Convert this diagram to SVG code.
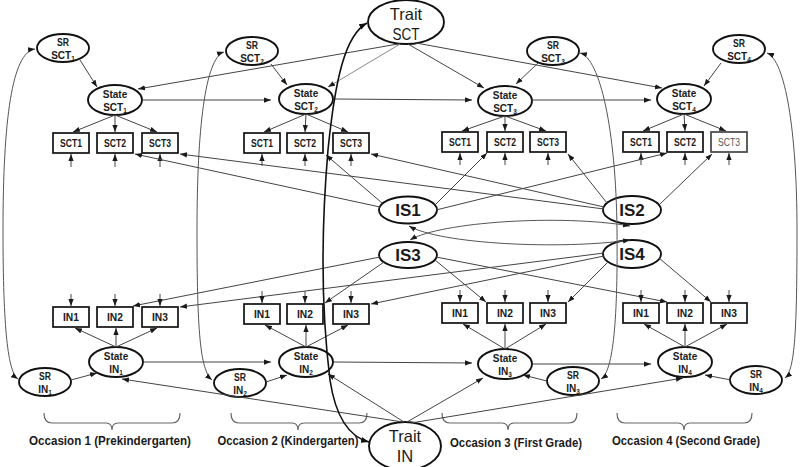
<svg xmlns="http://www.w3.org/2000/svg" width="800" height="467" viewBox="0 0 800 467">
<defs>
<marker id="ah" viewBox="0 0 8 6" refX="8" refY="3" markerWidth="7" markerHeight="5.5" markerUnits="userSpaceOnUse" orient="auto-start-reverse"><path d="M0,0 L8,3 L0,6 z" fill="#1a1a1a"/></marker>
<marker id="ahb" viewBox="0 0 8 6" refX="8" refY="3" markerWidth="8" markerHeight="6.5" markerUnits="userSpaceOnUse" orient="auto-start-reverse"><path d="M0,0 L8,3 L0,6 z" fill="#111"/></marker>
</defs>
<style>
text{font-family:"Liberation Sans",Arial,sans-serif;fill:#1a1a1a;text-anchor:middle;font-weight:bold}
.el{fill:#fff;stroke:#111;stroke-width:1.9}
.bx{fill:#fff;stroke:#111;stroke-width:1.7}
.sm{font-size:10px}
.bl{font-size:10.5px}
.is{font-size:17px}
.tr{font-size:16.5px;font-weight:normal}
.oc{font-size:13.5px}
.c{fill:none;stroke:#444;stroke-width:1;marker-end:url(#ah)}
.d{fill:none;stroke:#555;stroke-width:1;marker-end:url(#ah);marker-start:url(#ah)}
.bc{fill:none;stroke:#111;stroke-width:1.6;marker-end:url(#ahb);marker-start:url(#ahb)}
.br{fill:none;stroke:#666;stroke-width:1.2}
</style>

<!-- Nodes -->
<g id="traitSCT"><ellipse class="el" cx="406" cy="22" rx="38" ry="22"/><text class="tr" x="406" y="20">Trait</text><text class="tr" x="406" y="40" textLength="27" lengthAdjust="spacingAndGlyphs">SCT</text></g>
<g id="traitIN"><ellipse class="el" cx="405" cy="446" rx="36" ry="24"/><text class="tr" x="405" y="442">Trait</text><text class="tr" x="405" y="462">IN</text></g>

<g id="srSCT1"><ellipse class="el" cx="63" cy="48" rx="26" ry="14"/><text class="sm" x="63" y="46" textLength="12" lengthAdjust="spacingAndGlyphs">SR</text><text class="sm" x="63" y="59">SCT<tspan font-size="6.5" dy="2">1</tspan></text></g>
<g id="srSCT2"><ellipse class="el" cx="252" cy="51" rx="26" ry="14"/><text class="sm" x="252" y="49" textLength="12" lengthAdjust="spacingAndGlyphs">SR</text><text class="sm" x="252" y="62">SCT<tspan font-size="6.5" dy="2">2</tspan></text></g>
<g id="srSCT3"><ellipse class="el" cx="553" cy="51" rx="26" ry="14"/><text class="sm" x="553" y="49" textLength="12" lengthAdjust="spacingAndGlyphs">SR</text><text class="sm" x="553" y="62">SCT<tspan font-size="6.5" dy="2">3</tspan></text></g>
<g id="srSCT4"><ellipse class="el" cx="739" cy="49" rx="26" ry="14"/><text class="sm" x="739" y="47" textLength="12" lengthAdjust="spacingAndGlyphs">SR</text><text class="sm" x="739" y="60">SCT<tspan font-size="6.5" dy="2">4</tspan></text></g>

<g id="stateSCT1"><ellipse class="el" cx="115" cy="100" rx="27" ry="15"/><text class="sm" x="115" y="98">State</text><text class="sm" x="115" y="111">SCT<tspan font-size="6.5" dy="2">1</tspan></text></g>
<g id="stateSCT2"><ellipse class="el" cx="306" cy="99" rx="27" ry="15"/><text class="sm" x="306" y="97">State</text><text class="sm" x="306" y="110">SCT<tspan font-size="6.5" dy="2">2</tspan></text></g>
<g id="stateSCT3"><ellipse class="el" cx="505" cy="101" rx="27" ry="15"/><text class="sm" x="505" y="99">State</text><text class="sm" x="505" y="112">SCT<tspan font-size="6.5" dy="2">3</tspan></text></g>
<g id="stateSCT4"><ellipse class="el" cx="684" cy="99" rx="27" ry="15"/><text class="sm" x="684" y="97">State</text><text class="sm" x="684" y="110">SCT<tspan font-size="6.5" dy="2">4</tspan></text></g>

<g id="o1sct1"><rect class="bx" x="53" y="133" width="36" height="20"/><text class="bl" x="71" y="147" textLength="22" lengthAdjust="spacingAndGlyphs">SCT1</text></g>
<g id="o1sct2"><rect class="bx" x="97" y="133" width="36" height="20"/><text class="bl" x="115" y="147" textLength="22" lengthAdjust="spacingAndGlyphs">SCT2</text></g>
<g id="o1sct3"><rect class="bx" x="142" y="133" width="36" height="20"/><text class="bl" x="160" y="147" textLength="22" lengthAdjust="spacingAndGlyphs">SCT3</text></g>
<g id="o2sct1"><rect class="bx" x="244" y="133" width="36" height="20"/><text class="bl" x="262" y="147" textLength="22" lengthAdjust="spacingAndGlyphs">SCT1</text></g>
<g id="o2sct2"><rect class="bx" x="287" y="133" width="36" height="20"/><text class="bl" x="305" y="147" textLength="22" lengthAdjust="spacingAndGlyphs">SCT2</text></g>
<g id="o2sct3"><rect class="bx" x="333" y="133" width="36" height="20"/><text class="bl" x="351" y="147" textLength="22" lengthAdjust="spacingAndGlyphs">SCT3</text></g>
<g id="o3sct1"><rect class="bx" x="442" y="132" width="36" height="20"/><text class="bl" x="460" y="146" textLength="22" lengthAdjust="spacingAndGlyphs">SCT1</text></g>
<g id="o3sct2"><rect class="bx" x="487" y="132" width="36" height="20"/><text class="bl" x="505" y="146" textLength="22" lengthAdjust="spacingAndGlyphs">SCT2</text></g>
<g id="o3sct3"><rect class="bx" x="530" y="132" width="36" height="20"/><text class="bl" x="548" y="146" textLength="22" lengthAdjust="spacingAndGlyphs">SCT3</text></g>
<g id="o4sct1"><rect class="bx" x="623" y="132" width="36" height="20"/><text class="bl" x="641" y="146" textLength="22" lengthAdjust="spacingAndGlyphs">SCT1</text></g>
<g id="o4sct2"><rect class="bx" x="667" y="132" width="36" height="20"/><text class="bl" x="685" y="146" textLength="22" lengthAdjust="spacingAndGlyphs">SCT2</text></g>
<g id="o4sct3"><rect class="bx" x="711" y="132" width="36" height="20" style="stroke:#444"/><text class="bl" x="729" y="146" textLength="22" lengthAdjust="spacingAndGlyphs" style="font-weight:normal;fill:#555">SCT3</text></g>

<g id="IS1"><ellipse class="el" cx="408" cy="210" rx="29" ry="13.5"/><text class="is" x="408" y="216">IS1</text></g>
<g id="IS2"><ellipse class="el" cx="632" cy="210" rx="29" ry="14"/><text class="is" x="632" y="216">IS2</text></g>
<g id="IS3"><ellipse class="el" cx="408" cy="255" rx="29" ry="13"/><text class="is" x="408" y="261">IS3</text></g>
<g id="IS4"><ellipse class="el" cx="632" cy="254" rx="29" ry="14"/><text class="is" x="632" y="260">IS4</text></g>

<g id="o1in1"><rect class="bx" x="53" y="307" width="36" height="20"/><text class="bl" x="71" y="321" textLength="16" lengthAdjust="spacingAndGlyphs">IN1</text></g>
<g id="o1in2"><rect class="bx" x="97" y="307" width="36" height="20"/><text class="bl" x="115" y="321" textLength="16" lengthAdjust="spacingAndGlyphs">IN2</text></g>
<g id="o1in3"><rect class="bx" x="142" y="307" width="36" height="20"/><text class="bl" x="160" y="321" textLength="16" lengthAdjust="spacingAndGlyphs">IN3</text></g>
<g id="o2in1"><rect class="bx" x="244" y="304" width="36" height="20"/><text class="bl" x="262" y="318" textLength="16" lengthAdjust="spacingAndGlyphs">IN1</text></g>
<g id="o2in2"><rect class="bx" x="287" y="304" width="36" height="20"/><text class="bl" x="305" y="318" textLength="16" lengthAdjust="spacingAndGlyphs">IN2</text></g>
<g id="o2in3"><rect class="bx" x="333" y="304" width="36" height="20"/><text class="bl" x="351" y="318" textLength="16" lengthAdjust="spacingAndGlyphs">IN3</text></g>
<g id="o3in1"><rect class="bx" x="442" y="303" width="36" height="20"/><text class="bl" x="460" y="317" textLength="16" lengthAdjust="spacingAndGlyphs">IN1</text></g>
<g id="o3in2"><rect class="bx" x="487" y="303" width="36" height="20"/><text class="bl" x="505" y="317" textLength="16" lengthAdjust="spacingAndGlyphs">IN2</text></g>
<g id="o3in3"><rect class="bx" x="530" y="303" width="36" height="20"/><text class="bl" x="548" y="317" textLength="16" lengthAdjust="spacingAndGlyphs">IN3</text></g>
<g id="o4in1"><rect class="bx" x="623" y="303" width="36" height="20"/><text class="bl" x="641" y="317" textLength="16" lengthAdjust="spacingAndGlyphs">IN1</text></g>
<g id="o4in2"><rect class="bx" x="667" y="303" width="36" height="20"/><text class="bl" x="685" y="317" textLength="16" lengthAdjust="spacingAndGlyphs">IN2</text></g>
<g id="o4in3"><rect class="bx" x="711" y="303" width="36" height="20"/><text class="bl" x="729" y="317" textLength="16" lengthAdjust="spacingAndGlyphs">IN3</text></g>

<g id="stateIN1"><ellipse class="el" cx="116" cy="362" rx="27" ry="15"/><text class="sm" x="116" y="360">State</text><text class="sm" x="116" y="373">IN<tspan font-size="6.5" dy="2">1</tspan></text></g>
<g id="stateIN2"><ellipse class="el" cx="306" cy="362" rx="27" ry="15"/><text class="sm" x="306" y="360">State</text><text class="sm" x="306" y="373">IN<tspan font-size="6.5" dy="2">2</tspan></text></g>
<g id="stateIN3"><ellipse class="el" cx="505" cy="364" rx="27" ry="15"/><text class="sm" x="505" y="362">State</text><text class="sm" x="505" y="375">IN<tspan font-size="6.5" dy="2">3</tspan></text></g>
<g id="stateIN4"><ellipse class="el" cx="685" cy="362" rx="27" ry="15"/><text class="sm" x="685" y="360">State</text><text class="sm" x="685" y="373">IN<tspan font-size="6.5" dy="2">4</tspan></text></g>

<g id="srIN1"><ellipse class="el" cx="45" cy="382" rx="26" ry="14"/><text class="sm" x="45" y="380" textLength="12" lengthAdjust="spacingAndGlyphs">SR</text><text class="sm" x="45" y="393">IN<tspan font-size="6.5" dy="2">1</tspan></text></g>
<g id="srIN2"><ellipse class="el" cx="240" cy="383" rx="26" ry="14"/><text class="sm" x="240" y="381" textLength="12" lengthAdjust="spacingAndGlyphs">SR</text><text class="sm" x="240" y="394">IN<tspan font-size="6.5" dy="2">2</tspan></text></g>
<g id="srIN3"><ellipse class="el" cx="573" cy="381" rx="26" ry="14"/><text class="sm" x="573" y="379" textLength="12" lengthAdjust="spacingAndGlyphs">SR</text><text class="sm" x="573" y="392">IN<tspan font-size="6.5" dy="2">3</tspan></text></g>
<g id="srIN4"><ellipse class="el" cx="756" cy="380" rx="26" ry="14"/><text class="sm" x="756" y="378" textLength="12" lengthAdjust="spacingAndGlyphs">SR</text><text class="sm" x="756" y="391">IN<tspan font-size="6.5" dy="2">4</tspan></text></g>

<g id="occasion1"><path class="br" d="M44,413 Q44,423 52,423 L106,423 Q112,423 112,430 Q112,423 118,423 L172,423 Q180,423 180,413"/><text class="oc" x="110" y="445" textLength="162" lengthAdjust="spacingAndGlyphs">Occasion 1 (Prekindergarten)</text></g>
<g id="occasion2"><path class="br" d="M231,413 Q231,423 239,423 L292,423 Q298,423 298,430 Q298,423 304,423 L359,423 Q367,423 367,413"/><text class="oc" x="288" y="445" textLength="141" lengthAdjust="spacingAndGlyphs">Occasion 2 (Kindergarten)</text></g>
<g id="occasion3"><path class="br" d="M442,413 Q442,423 450,423 L502,423 Q508,423 508,430 Q508,423 514,423 L569,423 Q577,423 577,413"/><text class="oc" x="516" y="447" textLength="132" lengthAdjust="spacingAndGlyphs">Occasion 3 (First Grade)</text></g>
<g id="occasion4"><path class="br" d="M617,413 Q617,423 625,423 L678,423 Q684,423 684,430 Q684,423 690,423 L744,423 Q752,423 752,413"/><text class="oc" x="686" y="445" textLength="148" lengthAdjust="spacingAndGlyphs">Occasion 4 (Second Grade)</text></g>

<!-- Connectors -->
<g id="connectors">
<line class="c" x1="398" y1="44" x2="138" y2="89"/>
<line class="c" x1="400" y1="44" x2="328" y2="87" style="stroke:#888"/>
<line class="c" x1="408" y1="44" x2="484" y2="88"/>
<line class="c" x1="416" y1="43" x2="662" y2="88"/>
<line class="c" x1="143" y1="100" x2="271" y2="100"/>
<line class="c" x1="333" y1="99" x2="472" y2="100"/>
<line class="c" x1="532" y1="100" x2="651" y2="100"/>
<line class="c" x1="80" y1="60" x2="97" y2="87"/>
<line class="c" x1="271" y1="64" x2="287" y2="85"/>
<line class="c" x1="538" y1="63" x2="516" y2="84"/>
<line class="c" x1="721" y1="63" x2="704" y2="86"/>
<line class="c" x1="115" y1="115" x2="73" y2="132"/><line class="c" x1="115" y1="115" x2="115" y2="132"/><line class="c" x1="115" y1="115" x2="157" y2="132"/>
<line class="c" x1="306" y1="114" x2="264" y2="132"/><line class="c" x1="306" y1="114" x2="305" y2="132"/><line class="c" x1="306" y1="114" x2="348" y2="132"/>
<line class="c" x1="505" y1="116" x2="462" y2="131"/><line class="c" x1="505" y1="116" x2="505" y2="131"/><line class="c" x1="505" y1="116" x2="546" y2="131"/>
<line class="c" x1="684" y1="114" x2="643" y2="131"/><line class="c" x1="684" y1="114" x2="685" y2="131"/><line class="c" x1="684" y1="114" x2="726" y2="131"/>
<line class="c" x1="71" y1="167" x2="71" y2="154"/><line class="c" x1="115" y1="167" x2="115" y2="154"/><line class="c" x1="160" y1="167" x2="160" y2="154"/>
<line class="c" x1="262" y1="166" x2="262" y2="154"/><line class="c" x1="305" y1="166" x2="305" y2="154"/><line class="c" x1="351" y1="166" x2="351" y2="154"/>
<line class="c" x1="460" y1="165" x2="460" y2="153"/><line class="c" x1="505" y1="165" x2="505" y2="153"/><line class="c" x1="548" y1="165" x2="548" y2="153"/>
<line class="c" x1="641" y1="165" x2="641" y2="153"/><line class="c" x1="685" y1="165" x2="685" y2="153"/><line class="c" x1="729" y1="165" x2="729" y2="153"/>
<line class="c" x1="380" y1="207" x2="135" y2="154"/>
<line class="c" x1="382" y1="203" x2="326" y2="155"/>
<line class="c" x1="435" y1="205" x2="487" y2="153"/>
<line class="c" x1="436" y1="210" x2="667" y2="153"/>
<line class="c" x1="604" y1="209" x2="180" y2="154"/>
<line class="c" x1="604" y1="207" x2="371" y2="154"/>
<line class="c" x1="607" y1="203" x2="568" y2="154"/>
<line class="c" x1="659" y1="205" x2="712" y2="154"/>
<path class="d" d="M409,226 C440,244 560,250 630,240"/>
<path class="d" d="M410,240 C440,222 560,214 630,226"/>
<line class="c" x1="380" y1="257" x2="133" y2="306"/>
<line class="c" x1="384" y1="262" x2="325" y2="303"/>
<line class="c" x1="435" y1="260" x2="486" y2="302"/>
<line class="c" x1="436" y1="257" x2="667" y2="302"/>
<line class="c" x1="604" y1="253" x2="180" y2="307"/>
<line class="c" x1="604" y1="256" x2="371" y2="304"/>
<line class="c" x1="608" y1="262" x2="568" y2="302"/>
<line class="c" x1="659" y1="258" x2="711" y2="302"/>
<line class="c" x1="71" y1="294" x2="71" y2="306"/><line class="c" x1="115" y1="294" x2="115" y2="306"/><line class="c" x1="160" y1="294" x2="160" y2="306"/>
<line class="c" x1="262" y1="291" x2="262" y2="303"/><line class="c" x1="305" y1="291" x2="305" y2="303"/><line class="c" x1="351" y1="291" x2="351" y2="303"/>
<line class="c" x1="460" y1="290" x2="460" y2="302"/><line class="c" x1="505" y1="290" x2="505" y2="302"/><line class="c" x1="548" y1="290" x2="548" y2="302"/>
<line class="c" x1="641" y1="290" x2="641" y2="302"/><line class="c" x1="685" y1="290" x2="685" y2="302"/><line class="c" x1="729" y1="290" x2="729" y2="302"/>
<line class="c" x1="116" y1="347" x2="75" y2="328"/><line class="c" x1="116" y1="347" x2="116" y2="328"/><line class="c" x1="116" y1="347" x2="157" y2="328"/>
<line class="c" x1="306" y1="347" x2="265" y2="325"/><line class="c" x1="306" y1="347" x2="306" y2="325"/><line class="c" x1="306" y1="347" x2="348" y2="325"/>
<line class="c" x1="505" y1="349" x2="463" y2="324"/><line class="c" x1="505" y1="349" x2="505" y2="324"/><line class="c" x1="505" y1="349" x2="546" y2="324"/>
<line class="c" x1="685" y1="347" x2="644" y2="324"/><line class="c" x1="685" y1="347" x2="685" y2="324"/><line class="c" x1="685" y1="347" x2="727" y2="324"/>
<line class="c" x1="144" y1="362" x2="271" y2="362"/>
<line class="c" x1="334" y1="362" x2="472" y2="363"/>
<line class="c" x1="533" y1="364" x2="651" y2="364"/>
<line class="c" x1="71" y1="380" x2="97" y2="373"/>
<line class="c" x1="266" y1="382" x2="287" y2="375"/>
<line class="c" x1="547" y1="381" x2="523" y2="375"/>
<line class="c" x1="731" y1="380" x2="705" y2="375"/>
<line class="c" x1="403" y1="422" x2="122" y2="379"/>
<line class="c" x1="404" y1="422" x2="328" y2="374"/>
<line class="c" x1="407" y1="422" x2="483" y2="378"/>
<line class="c" x1="411" y1="423" x2="683" y2="378"/>
<path class="d" d="M35,49 C12,52 3,120 3,230 C3,330 8,372 18,379"/>
<path class="d" d="M224,52 C205,58 197,130 197,230 C197,330 200,370 212,380"/>
<path class="d" d="M580,53 C600,58 616,130 617,230 C618,330 612,372 601,379"/>
<path class="d" d="M767,53 C785,60 797,130 797,230 C797,330 795,370 785,378"/>
<path class="bc" d="M367,23 C345,35 335,80 328,150 C322,220 320,300 330,380 C336,420 350,437 369,442"/>
</g>
</svg>
